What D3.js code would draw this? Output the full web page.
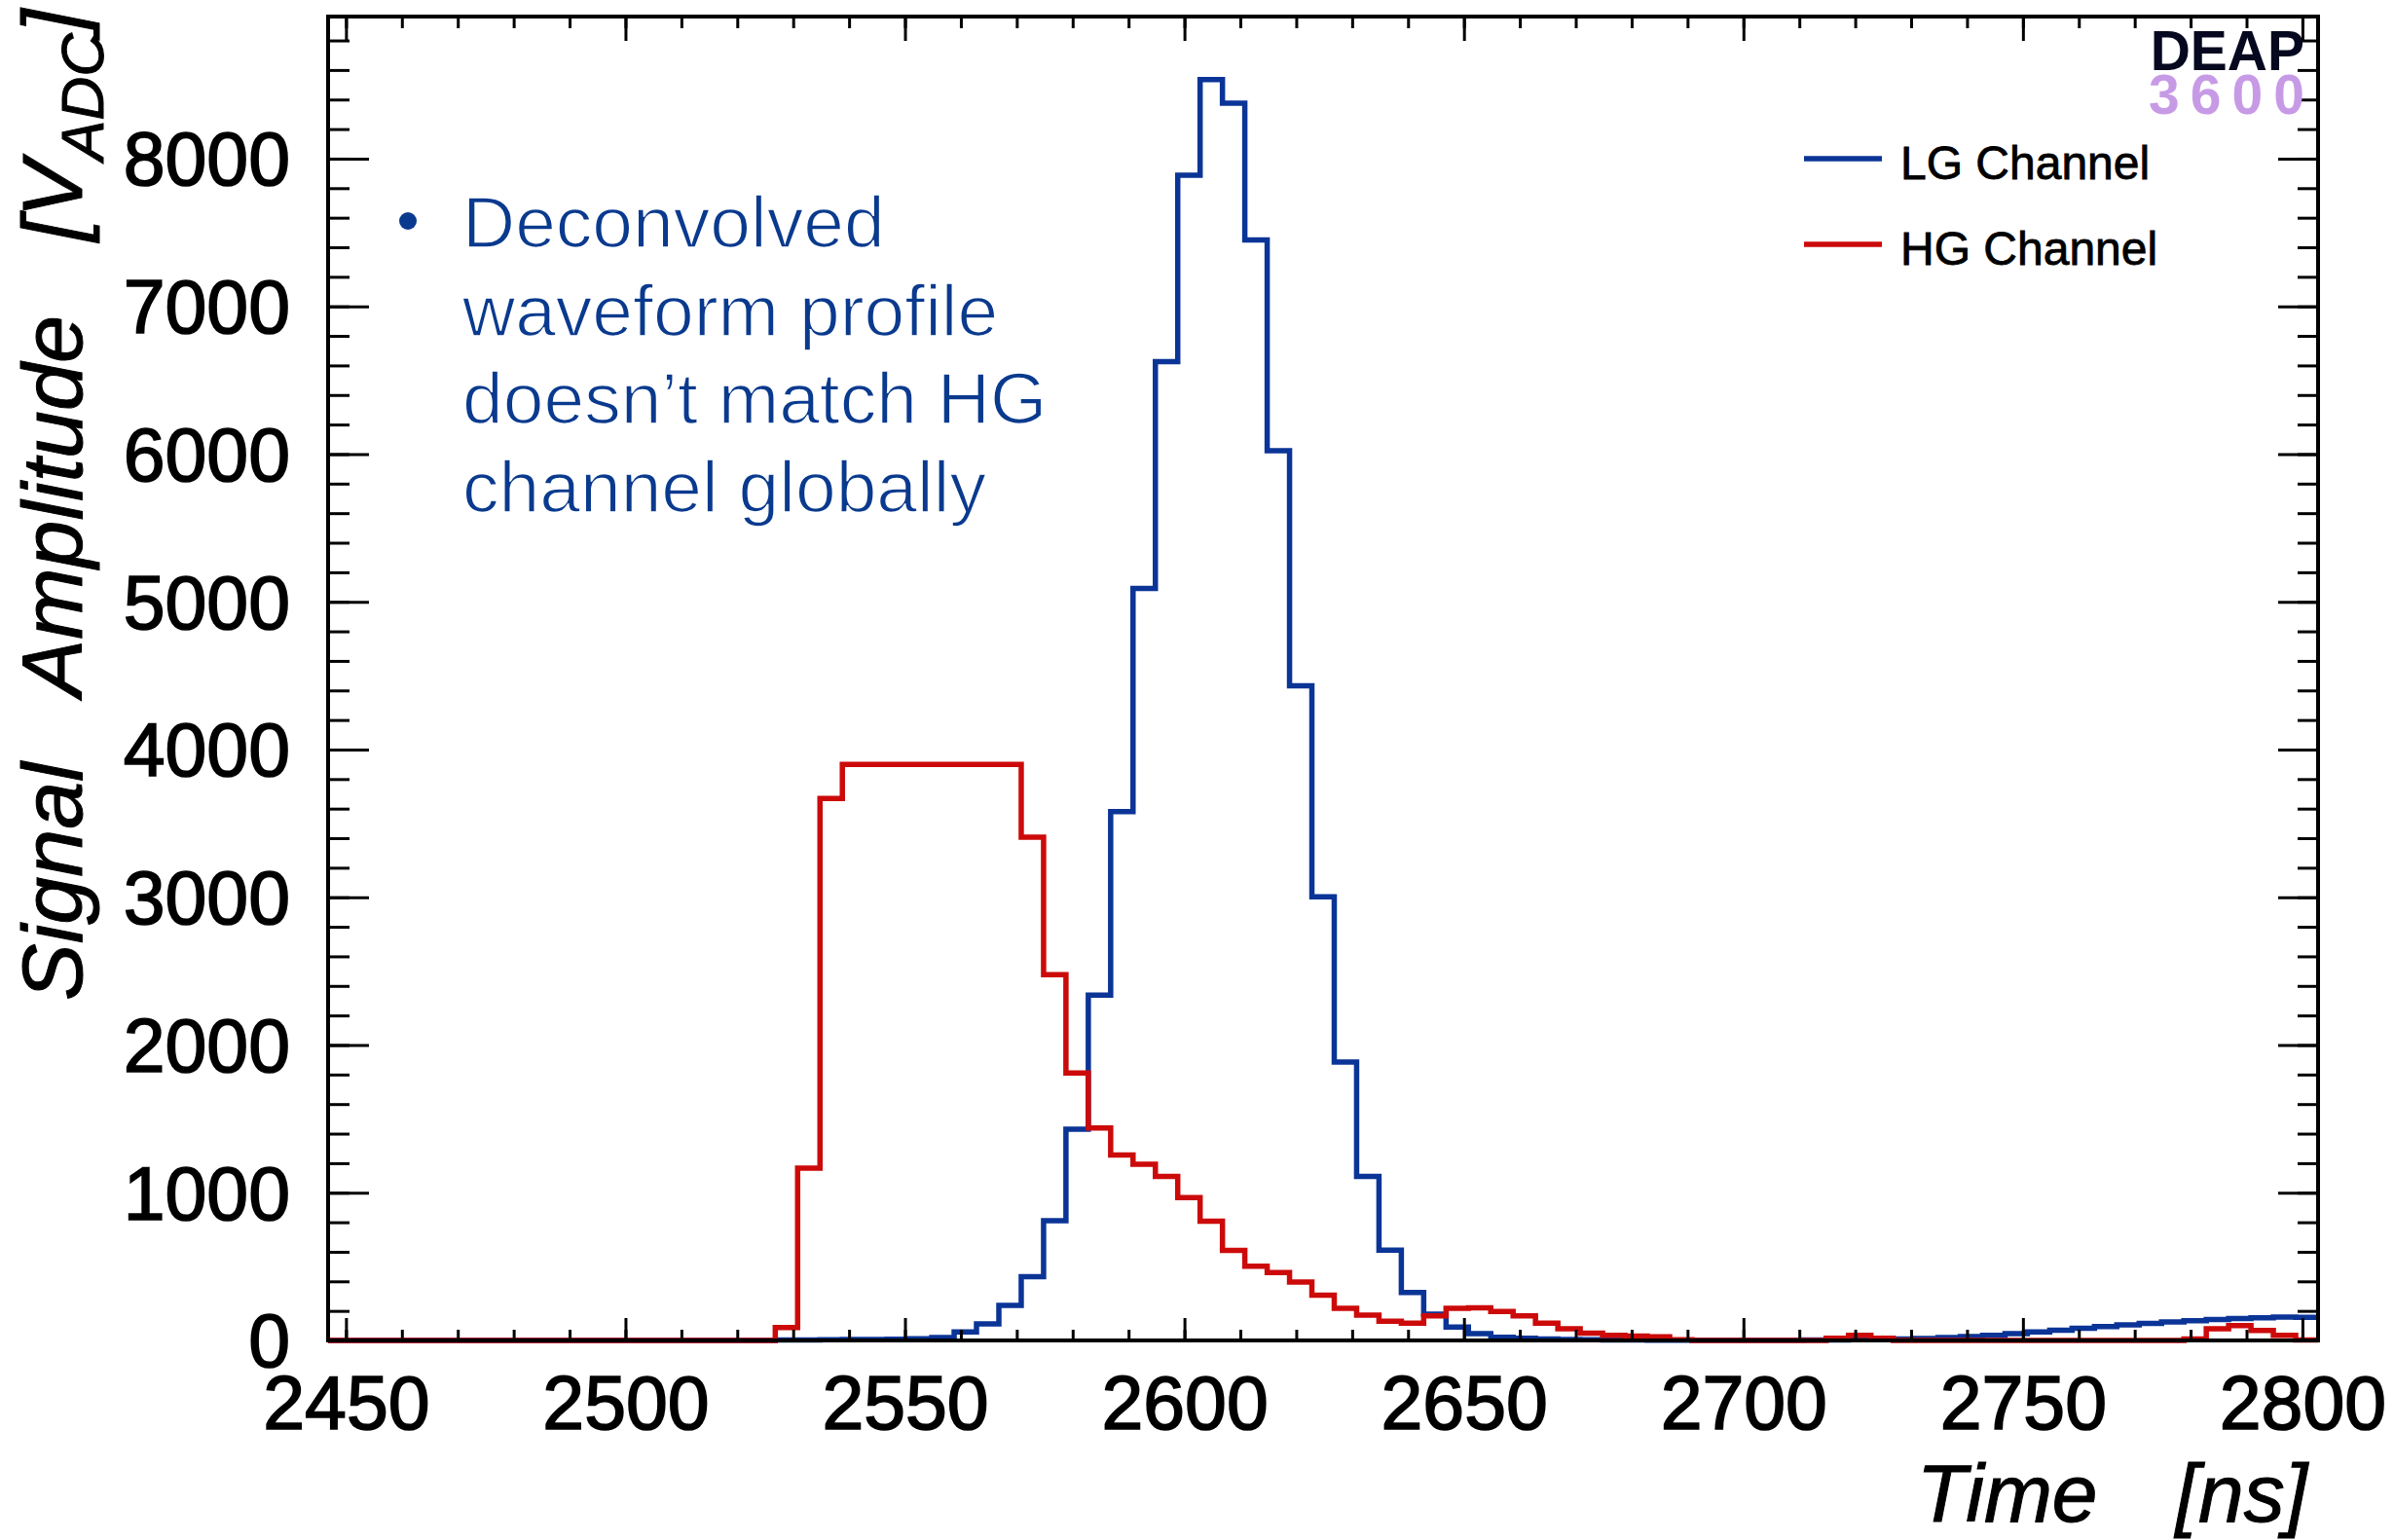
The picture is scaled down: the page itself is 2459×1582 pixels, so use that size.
<!DOCTYPE html>
<html>
<head>
<meta charset="utf-8">
<script src="https://cdn.jsdelivr.net/npm/d3@7"></script>
<style>
  html, body { margin: 0; padding: 0; background: #ffffff; }
  svg { display: block; }
  text { font-family: "Liberation Sans", Arial, Helvetica, sans-serif; }
</style>
</head>
<body>
<svg id="chart" width="2459" height="1582"></svg>
<script>
// Histogram binning (ns)
const binStart = 2446.8;
const binWidth = 4;

// LG channel amplitude per bin [V_ADC]
const lgValues = [
  0, 0, 0, 0, 0, 0, 0, 0, 0, 0,
  0, 0, 0, 0, 0, 0, 0, 0, 0, 0,
  3, 4, 5, 6, 7, 9, 12, 20, 57, 112,
  237, 431, 811, 1430, 2337, 3580, 5090, 6625, 7888, 8535,
  8376, 7449, 6023, 4432, 3003, 1885, 1110, 612, 324, 178,
  90, 46, 22, 15, 10, 7, 5, 4, 3, 2,
  2, 1, 1, 1, 2, 2, 3, 4, 6, 8,
  10, 14, 19, 26, 34, 46, 58, 70, 82, 94,
  105, 115, 125, 134, 142, 149, 154, 158, 156
];

// HG channel amplitude per bin [V_ADC]
const hgValues = [
  0, 0, 0, 0, 0, 0, 0, 0, 0, 0,
  0, 0, 0, 0, 0, 0, 0, 0, 0, 0,
  88, 1166, 3669, 3899, 3899, 3899, 3899, 3899, 3899, 3899,
  3899, 3406, 2476, 1810, 1438, 1255, 1193, 1110, 967, 807,
  610, 503, 460, 395, 306, 217, 171, 130, 117, 167,
  217, 220, 196, 167, 117, 79, 50, 35, 29, 25,
  5, 0, 0, 0, 0, 0, 0, 15, 35, 15,
  0, 0, 0, 0, 0, 0, 0, 0, 0, 0,
  0, 0, 0, 10, 79, 100, 68, 35, 3
];

// Axis ticks
const xMajorTicks = [2450, 2500, 2550, 2600, 2650, 2700, 2750, 2800];
const xMinorTicks = d3.range(2450, 2801, 10);
const yMajorTicks = [0, 1000, 2000, 3000, 4000, 5000, 6000, 7000, 8000];
const yMinorTicks = d3.range(0, 8801, 200);

const seriesNames = ["LG Channel", "HG Channel"];
const noteLines = ["Deconvolved", "waveform profile", "doesn\u2019t match HG", "channel globally"];

// Layout
const frame = { left: 337, top: 17, right: 2381, bottom: 1377 };
const nBins = lgValues.length;
const xMax = binStart + binWidth * nBins;
const yMax = 1.05 * d3.max(lgValues);

const colLG = "#0b3497";
const colHG = "#cc0a0a";

const svg = d3.select("#chart");

const x = d3.scaleLinear().domain([binStart, xMax]).range([frame.left, frame.right]);
const y = d3.scaleLinear().domain([0, yMax]).range([frame.bottom, frame.top]);

// clip region for the histograms
svg.append("defs").append("clipPath").attr("id", "plotClip")
  .append("rect")
  .attr("x", frame.left).attr("y", frame.top - 3)
  .attr("width", frame.right - frame.left).attr("height", frame.bottom - frame.top + 6);

// step outline for a histogram
function stepPoints(values) {
  const pts = values.map((v, i) => [binStart + i * binWidth, v]);
  pts.push([xMax, values[values.length - 1]]);
  return pts;
}
const stepLine = d3.line()
  .x(d => x(d[0]))
  .y(d => y(d[1]))
  .curve(d3.curveStepAfter);

const plot = svg.append("g").attr("clip-path", "url(#plotClip)");
plot.append("path")
  .attr("d", stepLine(stepPoints(lgValues)))
  .attr("fill", "none").attr("stroke", colLG).attr("stroke-width", 5.5)
  .attr("stroke-linejoin", "miter");
plot.append("path")
  .attr("d", stepLine(stepPoints(hgValues)))
  .attr("fill", "none").attr("stroke", colHG).attr("stroke-width", 5.5)
  .attr("stroke-linejoin", "miter");

// axes: ticks point inward on all four sides
const labelFont = 77;
function styleAxis(g, withLabels) {
  g.select(".domain").remove();
  g.selectAll(".tick line").attr("stroke", "#000").attr("stroke-width", 3);
  if (withLabels) {
    g.selectAll(".tick text")
      .attr("fill", "#000")
      .attr("stroke", "#000").attr("stroke-width", 1.6)
      .style("font-family", "'Liberation Sans', Arial, sans-serif")
      .style("font-size", labelFont + "px");
  } else {
    g.selectAll(".tick text").remove();
  }
}

svg.append("g").attr("transform", `translate(0,${frame.bottom})`)
  .call(d3.axisBottom(x).tickValues(xMinorTicks).tickSize(-11).tickFormat(""))
  .call(g => styleAxis(g, false));
svg.append("g").attr("transform", `translate(0,${frame.bottom})`)
  .call(d3.axisBottom(x).tickValues(xMajorTicks).tickSize(-23).tickPadding(36).tickFormat(d3.format("d")))
  .call(g => styleAxis(g, true));
svg.append("g").attr("transform", `translate(0,${frame.top})`)
  .call(d3.axisTop(x).tickValues(xMinorTicks).tickSize(-12).tickFormat(""))
  .call(g => styleAxis(g, false));
svg.append("g").attr("transform", `translate(0,${frame.top})`)
  .call(d3.axisTop(x).tickValues(xMajorTicks).tickSize(-25).tickFormat(""))
  .call(g => styleAxis(g, false));

svg.append("g").attr("transform", `translate(${frame.left},0)`)
  .call(d3.axisLeft(y).tickValues(yMinorTicks).tickSize(-22).tickFormat(""))
  .call(g => styleAxis(g, false));
svg.append("g").attr("transform", `translate(${frame.left},0)`)
  .call(d3.axisLeft(y).tickValues(yMajorTicks).tickSize(-42).tickPadding(39).tickFormat(d3.format("d")))
  .call(g => styleAxis(g, true))
  .call(g => g.selectAll(".tick text").attr("dy", "0.35em"));
svg.append("g").attr("transform", `translate(${frame.right},0)`)
  .call(d3.axisRight(y).tickValues(yMinorTicks).tickSize(-21).tickFormat(""))
  .call(g => styleAxis(g, false));
svg.append("g").attr("transform", `translate(${frame.right},0)`)
  .call(d3.axisRight(y).tickValues(yMajorTicks).tickSize(-41).tickFormat(""))
  .call(g => styleAxis(g, false));

// frame
svg.append("rect")
  .attr("x", frame.left).attr("y", frame.top)
  .attr("width", frame.right - frame.left).attr("height", frame.bottom - frame.top)
  .attr("fill", "none").attr("stroke", "#000").attr("stroke-width", 4);

// x-axis title
const xTitle = svg.append("text")
  .attr("x", 2370).attr("y", 1563)
  .attr("text-anchor", "end")
  .attr("stroke", "#000").attr("stroke-width", 1)
  .style("font-size", "84px").style("font-style", "italic").attr("fill", "#000");
xTitle.append("tspan").text("Time");
xTitle.append("tspan").attr("dx", 80).text("[ns]");

// y-axis title (rotated, reads bottom to top)
const yTitle = svg.append("text")
  .attr("transform", "translate(84,1028) rotate(-90)")
  .attr("text-anchor", "start")
  .attr("stroke", "#000").attr("stroke-width", 1)
  .style("font-size", "88px").style("font-style", "italic").attr("fill", "#000");
yTitle.append("tspan").text("Signal");
yTitle.append("tspan").attr("dx", 68).text("Amplitude");
yTitle.append("tspan").attr("dx", 76).text("[V");
yTitle.append("tspan").attr("dy", 22).style("font-size", "62px").text("ADC");
yTitle.append("tspan").attr("dy", -22).text("]");

// legend
const legend = svg.append("g");
[[seriesNames[0], colLG, 163], [seriesNames[1], colHG, 251]].forEach(([name, col, ly]) => {
  legend.append("line")
    .attr("x1", 1853).attr("x2", 1933).attr("y1", ly).attr("y2", ly)
    .attr("stroke", col).attr("stroke-width", 5.5);
  legend.append("text")
    .attr("x", 1952).attr("y", ly + 21)
    .attr("stroke", "#000").attr("stroke-width", 0.8)
    .style("font-size", "48px").attr("fill", "#000")
    .text(name);
});

// experiment logo
svg.append("text")
  .attr("x", 2367).attr("y", 72).attr("text-anchor", "end")
  .style("font-size", "57px").style("font-weight", "bold").attr("fill", "#05081e")
  .text("DEAP");
svg.append("text")
  .attr("x", 2207).attr("y", 117)
  .attr("textLength", 160).attr("lengthAdjust", "spacing")
  .style("font-size", "57px").style("font-weight", "bold").attr("fill", "#c79ae6")
  .text("3600");

// annotation (light face: white edge thins the strokes)
const noteColor = "#0a3a8e";
svg.append("circle").attr("cx", 419).attr("cy", 227).attr("r", 9).attr("fill", noteColor);
const note = svg.append("text")
  .style("font-size", "75px").attr("fill", noteColor)
  .attr("stroke", "#ffffff").attr("stroke-width", 1.6);
noteLines.forEach((line, i) => {
  note.append("tspan").attr("x", 475).attr("y", 254 + i * 90.5).text(line);
});
</script>
</body>
</html>
